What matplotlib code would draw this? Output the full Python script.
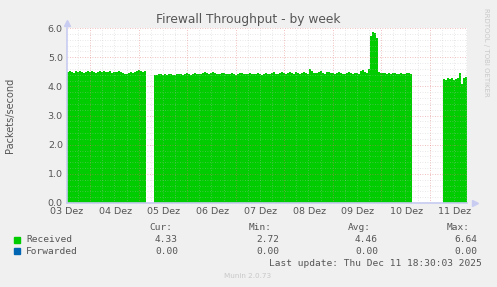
import numpy as np
import matplotlib
matplotlib.use('Agg')
import matplotlib.pyplot as plt

# hourly samples, hours since 03 Dez 00:00 (first sample at 12:30)
received = [
	4.48, 4.52, 4.50, 4.47, 4.51, 4.49, 4.53, 4.50, 4.46, 4.50, 4.52, 4.48, 4.51, 4.49, 4.47, 4.50, 4.52,
	4.49, 4.51, 4.48, 4.50, 4.53, 4.47, 4.50, 4.49, 4.52, 4.48, 4.45,
	4.42, 4.43, 4.46, 4.48, 4.47, 4.50, 4.52, 4.55, 4.52, 4.50, 4.54, 4.63,
	np.nan, np.nan, np.nan,
	4.38, 4.40, 4.42, 4.41, 4.39, 4.42, 4.40, 4.43, 4.41, 4.38, 4.40, 4.42, 4.44, 4.41, 4.39, 4.43, 4.45,
	4.42, 4.40, 4.44, 4.46, 4.43, 4.41, 4.44,
	4.46, 4.48, 4.45, 4.43, 4.47, 4.50, 4.46, 4.44, 4.42, 4.45, 4.47, 4.44, 4.41, 4.43, 4.46, 4.42, 4.40,
	4.44, 4.47, 4.45, 4.43, 4.41, 4.44, 4.46, 4.43,
	4.41, 4.43, 4.45, 4.42, 4.40, 4.44, 4.46, 4.43, 4.41, 4.45, 4.48, 4.44, 4.42, 4.46, 4.49, 4.45, 4.43,
	4.47, 4.50, 4.46, 4.44, 4.48, 4.45, 4.43, 4.47,
	4.49, 4.46, 4.44, 4.58, 4.52, 4.47, 4.45, 4.49, 4.51, 4.46, 4.44, 4.48, 4.50, 4.47, 4.45, 4.43, 4.47,
	4.49, 4.46, 4.44, 4.42, 4.46, 4.48, 4.45, 4.43,
	4.45, 4.47, 4.44, 4.52, 4.56, 4.48, 4.46, 4.60,
	5.72, 5.86, 5.82, 5.65,
	4.48, 4.46, 4.45, 4.47, 4.44, 4.46, 4.43, 4.45, 4.47, 4.44, 4.42, 4.46, 4.44, 4.41, 4.45, 4.47, 4.44, 4.46,
	np.nan, np.nan, np.nan, np.nan, np.nan, np.nan, np.nan, np.nan, np.nan, np.nan, np.nan, np.nan, np.nan, np.nan,
	4.25, 4.22, 4.27, 4.24, 4.28, 4.23, 4.26, 4.30, 4.45, 4.08, 4.27, 4.31,
]
forwarded = [0.0] * len(received)
day_labels = ['03 Dez', '04 Dez', '05 Dez', '06 Dez', '07 Dez', '08 Dez', '09 Dez', '10 Dez', '11 Dez']
legend_names = ['Received', 'Forwarded']
cur = ['4.33', '0.00']
mins = ['2.72', '0.00']
avgs = ['4.46', '0.00']
maxs = ['6.64', '0.00']
colors = ['#00CC00', '#0066B3']

t_start, t_end = 12.5, 210.5
hours = t_start + np.arange(len(received) + 1)
rec = np.array(received + [received[-1]])
fwd = np.array(forwarded + [0.0])

W, H = 497, 287
fig = plt.figure(figsize=(W / 100, H / 100), dpi=100, facecolor='#F0F0F0')
ax = fig.add_axes([67 / W, (H - 203) / H, 400 / W, 175 / H])
ax.set_facecolor('white')

ax.fill_between(hours, 0, rec, step='post', color=colors[0], linewidth=0, zorder=1)
ax.step(hours, fwd, where='post', color=colors[1], linewidth=0.8, zorder=2)

ax.set_xlim(t_start, t_end)
ax.set_ylim(0, 6)

# grid: minor gray dotted, major red dotted, faint over the area like rrdtool
gkw = dict(color='#BBBBBB', lw=0.6, ls=(0, (1, 2)), alpha=0.45, zorder=3)
mkw = dict(color='#E07070', lw=0.6, ls=(0, (1, 2)), alpha=0.6, zorder=3)
for h in np.arange(18, t_end, 6):
	if h % 24:
		ax.axvline(h, **gkw)
for h in np.arange(24, t_end, 24):
	ax.axvline(h, **mkw)
for v in np.arange(0.2, 6.01, 0.2):
	if abs(v - round(v)) > 1e-6:
		ax.axhline(v, **gkw)
for v in range(1, 7):
	ax.axhline(v, **mkw)

ax.set_xticks(np.arange(len(day_labels)) * 24 + 12.5)
ax.set_xticklabels(day_labels)
ax.set_yticks(range(7))
ax.set_yticklabels(['%.1f' % v for v in range(7)])
ax.tick_params(length=0, labelsize=6.8, colors='#555555', pad=3)

for s in ['top', 'right']:
	ax.spines[s].set_visible(False)
for s in ['left', 'bottom']:
	ax.spines[s].set_color('#C8CCF0')
	ax.spines[s].set_linewidth(1.2)
	ax.spines[s].set_zorder(4)
ax.plot(0, 1.03, '^', transform=ax.transAxes, color='#C8CCF0', ms=4, clip_on=False)
ax.plot(1.02, 0, '>', transform=ax.transAxes, color='#C8CCF0', ms=4, clip_on=False)

fig.text(248 / W, 1 - 19 / H, 'Firewall Throughput - by week', ha='center', va='center',
		 fontsize=8.8, color='#555555')
fig.text(10 / W, 1 - 115 / H, 'Packets/second', rotation=90, ha='center', va='center',
		 fontsize=7, color='#555555')
fig.text(486 / W, 1 - 8 / H, 'RRDTOOL / TOBI OETIKER', rotation=270, ha='center', va='top',
		 fontsize=5, color='#C8C8C8')

mono = dict(family='DejaVu Sans Mono', fontsize=6.8, color='#555555')
hdr_y = 1 - 228 / H
for x, txt in zip([172, 272, 371, 470], ['Cur:', 'Min:', 'Avg:', 'Max:']):
	fig.text(x / W, hdr_y, txt, ha='right', va='center', **mono)
for i, name in enumerate(legend_names):
	y = 1 - (240 + 11 * i) / H
	fig.patches.append(plt.Rectangle((14 / W, y - 3 / H), 6 / W, 6 / H, color=colors[i],
									 transform=fig.transFigure, figure=fig))
	fig.text(26 / W, y, name, ha='left', va='center', **mono)
	for x, col in zip([178, 279, 378, 477], [cur, mins, avgs, maxs]):
		fig.text(x / W, y, col[i], ha='right', va='center', **mono)
fig.text(482 / W, 1 - 263 / H, 'Last update: Thu Dec 11 18:30:03 2025', ha='right', va='center', **mono)
fig.text(248 / W, 1 - 276 / H, 'Munin 2.0.73', ha='center', va='center', fontsize=5.2, color='#C8C8C8')

fig.savefig('out.png', dpi=100, facecolor=fig.get_facecolor())
